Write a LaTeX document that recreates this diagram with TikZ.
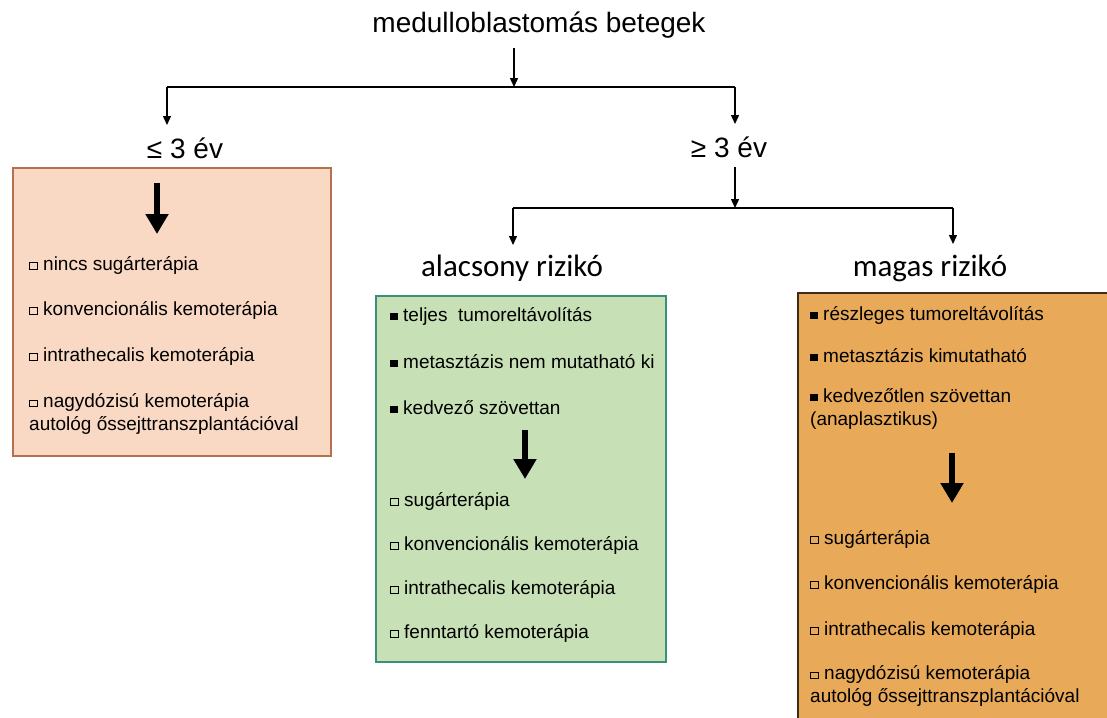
\documentclass[tikz,border=0pt]{standalone}
\usepackage{fontspec}
\setmainfont{Liberation Sans}
\newfontfamily\calib{Carlito}
\usetikzlibrary{arrows.meta}
\definecolor{peachfill}{HTML}{FAD9C4}
\definecolor{peachline}{HTML}{B5714F}
\definecolor{greenfill}{HTML}{C7E0B5}
\definecolor{greenline}{HTML}{3A8F7A}
\definecolor{orangefill}{HTML}{E8A958}
\definecolor{orangeline}{HTML}{3C2A1A}
\newcommand\fbul{\raisebox{1.5pt}{\rule{8pt}{7pt}}\hspace{5pt}}
\newcommand\hbul{\raisebox{1.5pt}{{\fboxsep=0pt\fboxrule=1pt\fbox{\rule{0pt}{5.5pt}\rule{7pt}{0pt}}}}\hspace{5pt}}
\tikzset{
  thinarrow/.style={line width=1.4pt, -{Triangle[width=8pt,length=9pt]}},
  thinline/.style={line width=1.4pt},
  blockarrow/.style={line width=6.5pt, -{Triangle[width=22pt,length=20pt]}},
  bigtext/.style={inner sep=0pt, font=\fontsize{28}{32}\selectfont},
  risktext/.style={inner sep=0pt, font=\calib\fontsize{31}{36}\selectfont},
  item/.style={anchor=west, inner sep=0pt, align=left, font=\fontsize{19}{23}\selectfont},
  boxbase/.style={anchor=north west, inner sep=0pt, line width=2pt},
}
\begin{document}
\begin{tikzpicture}[x=1pt,y=-1pt]
\useasboundingbox (0,0) rectangle (1107,717);
% boxes
\node[boxbase, draw=peachline, fill=peachfill, minimum width=318pt, minimum height=288pt] (leftbox) at (12,167) {};
\node[boxbase, draw=greenline, fill=greenfill, minimum width=290pt, minimum height=366pt] (greenbox) at (375,295) {};
\node[boxbase, draw=orangeline, fill=orangefill, minimum width=315pt, minimum height=430pt] (orangebox) at (797,292) {};
% headings
\node[bigtext] (title) at (539,25) {medulloblastomás betegek};
\node[bigtext] (le3) at (185,148) {≤ 3 év};
\node[bigtext] (ge3) at (729,147) {≥ 3 év};
\node[risktext] (low) at (512,268) {alacsony rizikó};
\node[risktext] (high) at (930,268) {magas rizikó};
% connector coordinates
\coordinate (t1) at (514,48);
\coordinate (j1) at (514,87);
\coordinate (jL) at (167,87);
\coordinate (jR) at (735,87);
\coordinate (eL) at (167,125);
\coordinate (eR) at (735,124);
\coordinate (g1) at (735,167);
\coordinate (j2) at (735,208);
\coordinate (kL) at (513,208);
\coordinate (kR) at (953,208);
\coordinate (fL) at (513,245);
\coordinate (fR) at (953,244);
% connectors
\draw[thinarrow] (t1) -- (j1);
\draw[thinline] (jL) -- (jR);
\draw[thinarrow] (jL) -- (eL);
\draw[thinarrow] (jR) -- (eR);
\draw[thinarrow] (g1) -- (j2);
\draw[thinline] (kL) -- (kR);
\draw[thinarrow] (kL) -- (fL);
\draw[thinarrow] (kR) -- (fR);
% block arrows
\coordinate (la1) at (157,183); \coordinate (la2) at (157,234);
\coordinate (ga1) at (525,430); \coordinate (ga2) at (525,479);
\coordinate (oa1) at (952,453); \coordinate (oa2) at (952,503);
\draw[blockarrow] (la1) -- (la2);
\draw[blockarrow] (ga1) -- (ga2);
\draw[blockarrow] (oa1) -- (oa2);
% left box items
\node[item] (l1) at (29,265) {\hbul nincs sugárterápia};
\node[item] (l2) at (29,310) {\hbul konvencionális kemoterápia};
\node[item] (l3) at (29,356) {\hbul intrathecalis kemoterápia};
\node[item] (l4) at (29,414) {\hbul nagydózisú kemoterápia\\autológ őssejttranszplantációval};
% green box items
\node[item] (g01) at (390,316) {\fbul teljes \ tumoreltávolítás};
\node[item] (g02) at (390,362) {\fbul metasztázis nem mutatható ki};
\node[item] (g03) at (390,408) {\fbul kedvező szövettan};
\node[item] (g04) at (390,501) {\hbul sugárterápia};
\node[item] (g05) at (390,545) {\hbul konvencionális kemoterápia};
\node[item] (g06) at (390,589) {\hbul intrathecalis kemoterápia};
\node[item] (g07) at (390,633) {\hbul fenntartó kemoterápia};
% orange box items
\node[item] (o01) at (810,315) {\fbul részleges tumoreltávolítás};
\node[item] (o02) at (810,356) {\fbul metasztázis kimutatható};
\node[item] (o03) at (810,409) {\fbul kedvezőtlen szövettan\\(anaplasztikus)};
\node[item] (o04) at (810,539) {\hbul sugárterápia};
\node[item] (o05) at (810,584) {\hbul konvencionális kemoterápia};
\node[item] (o06) at (810,630) {\hbul intrathecalis kemoterápia};
\node[item] (o07) at (810,686) {\hbul nagydózisú kemoterápia\\autológ őssejttranszplantációval};
\end{tikzpicture}
\end{document}
